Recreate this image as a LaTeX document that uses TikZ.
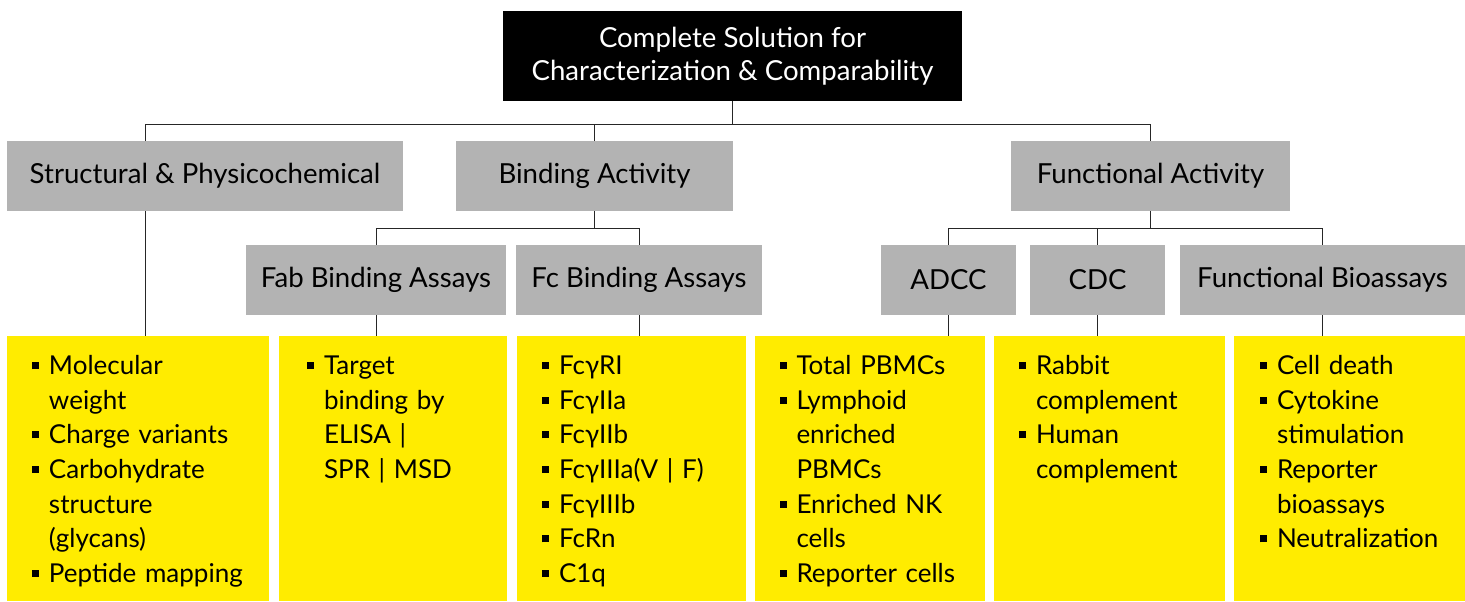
\documentclass[tikz,border=0pt]{standalone}
\usepackage{fontspec}
\setmainfont{Lato}
\usepackage{tikz}
\usetikzlibrary{calc, positioning}

\definecolor{headgray}{RGB}{179,179,179}
\definecolor{listyellow}{RGB}{255,236,0}

% square bullet and the indent of a wrapped line
\newcommand{\sqb}{\makebox[8.5pt][l]{\rule[2.8pt]{3.5pt}{3.5pt}}}
\newcommand{\ind}{\hspace*{8.5pt}}

\begin{document}
\begin{tikzpicture}[
      x=0.5pt, y=-0.5pt,
      every node/.style={font=\fontsize{13.8}{16.5}\selectfont},
      rootbox/.style={rectangle, fill=black, text=white, align=center, inner sep=0pt},
      headbox/.style={rectangle, fill=headgray, inner sep=0pt, minimum height=35pt},
      listbox/.style={rectangle, fill=listyellow, inner sep=0pt, minimum height=132.5pt},
      items/.style={anchor=base west, inner sep=0pt, align=left, text width=110pt,
                    font=\fontsize{13}{17.33}\selectfont},
      conn/.style={draw=black!85, line width=0.5pt}
    ]
    \useasboundingbox (0,0) rectangle (1465,601);

    % root
    \node[rootbox, minimum width=229.5pt, minimum height=45pt] (top) at (732.5,56)
      {Complete Solution for\\Characterization \& Comparability};

    % first level
    \node[headbox, minimum width=198pt] (struct) at (205,176) {Structural \& Physicochemical};
    \node[headbox, minimum width=138.5pt] (bind) at (594.5,176) {Binding Activity};
    \node[headbox, minimum width=139.5pt] (func) at (1150.5,176) {Functional Activity};

    % second level
    \node[headbox, minimum width=130pt] (fab) at (376,280) {Fab Binding Assays};
    \node[headbox, minimum width=123pt] (fc) at (639,280) {Fc Binding Assays};
    \node[headbox, minimum width=67.5pt] (adcc) at (948.5,280) {ADCC};
    \node[headbox, minimum width=67.5pt] (cdc) at (1097.5,280) {CDC};
    \node[headbox, minimum width=142.5pt] (fba) at (1322.5,280) {Functional Bioassays};

    % yellow lists
    \node[listbox, minimum width=130.75pt] (structlist) at (137.75,468.5) {};
    \node[listbox, minimum width=114pt] (fablist) at (393,468.5) {};
    \node[listbox, minimum width=114.5pt] (fclist) at (631.5,468.5) {};
    \node[listbox, minimum width=115.25pt] (adcclist) at (869.75,468.5) {};
    \node[listbox, minimum width=115.25pt] (cdclist) at (1109.25,468.5) {};
    \node[listbox, minimum width=115.5pt] (fbalist) at (1349.5,468.5) {};

    \node[items] (structtxt) at ($(structlist.north west)+(12.5pt,-19.5pt)$)
      {\sqb Molecular\\\ind weight\\\sqb Charge variants\\\sqb Carbohydrate\\\ind structure\\\ind (glycans)\\\sqb Peptide mapping};
    \node[items] (fabtxt) at ($(fablist.north west)+(14pt,-19.5pt)$)
      {\sqb Target\\\ind binding by\\\ind ELISA |\\\ind SPR | MSD};
    \node[items] (fctxt) at ($(fclist.north west)+(12.5pt,-19.5pt)$)
      {\sqb FcγRI\\\sqb FcγIIa\\\sqb FcγIIb\\\sqb FcγIIIa(V | F)\\\sqb FcγIIIb\\\sqb FcRn\\\sqb C1q};
    \node[items] (adcctxt) at ($(adcclist.north west)+(12.5pt,-19.5pt)$)
      {\sqb Total PBMCs\\\sqb Lymphoid\\\ind enriched\\\ind PBMCs\\\sqb Enriched NK\\\ind cells\\\sqb Reporter cells};
    \node[items] (cdctxt) at ($(cdclist.north west)+(12.5pt,-19.5pt)$)
      {\sqb Rabbit\\\ind complement\\\sqb Human\\\ind complement};
    \node[items] (fbatxt) at ($(fbalist.north west)+(13pt,-19.5pt)$)
      {\sqb Cell death\\\sqb Cytokine\\\ind stimulation\\\sqb Reporter\\\ind bioassays\\\sqb Neutralization};

    % connection points of the structural branch
    \coordinate (structin) at (145,141);
    \coordinate (structout) at (145,211);

    % root to first level
    \draw[conn] (top.south) -- ++(0,-11.5pt) -| (structin);
    \draw[conn] (top.south) -- ++(0,-11.5pt) -| (bind.north);
    \draw[conn] (top.south) -- ++(0,-11.5pt) -| (func.north);

    % first to second level
    \draw[conn] (bind.south) -- ++(0,-8.5pt) -| (fab.north);
    \draw[conn] (bind.south) -- ++(0,-8.5pt) -| (fc.north);
    \draw[conn] (func.south) -- ++(0,-8.5pt) -| (adcc.north);
    \draw[conn] (func.south) -- ++(0,-8.5pt) -| (cdc.north);
    \draw[conn] (func.south) -- ++(0,-8.5pt) -| (fba.north);

    % down to the lists
    \draw[conn] (structout) -- (structout |- structlist.north);
    \draw[conn] (fab.south) -- (fab.south |- fablist.north);
    \draw[conn] (fc.south) -- (fc.south |- fclist.north);
    \draw[conn] (adcc.south) -- (adcc.south |- adcclist.north);
    \draw[conn] (cdc.south) -- (cdc.south |- cdclist.north);
    \draw[conn] (fba.south) -- (fba.south |- fbalist.north);
\end{tikzpicture}
\end{document}
